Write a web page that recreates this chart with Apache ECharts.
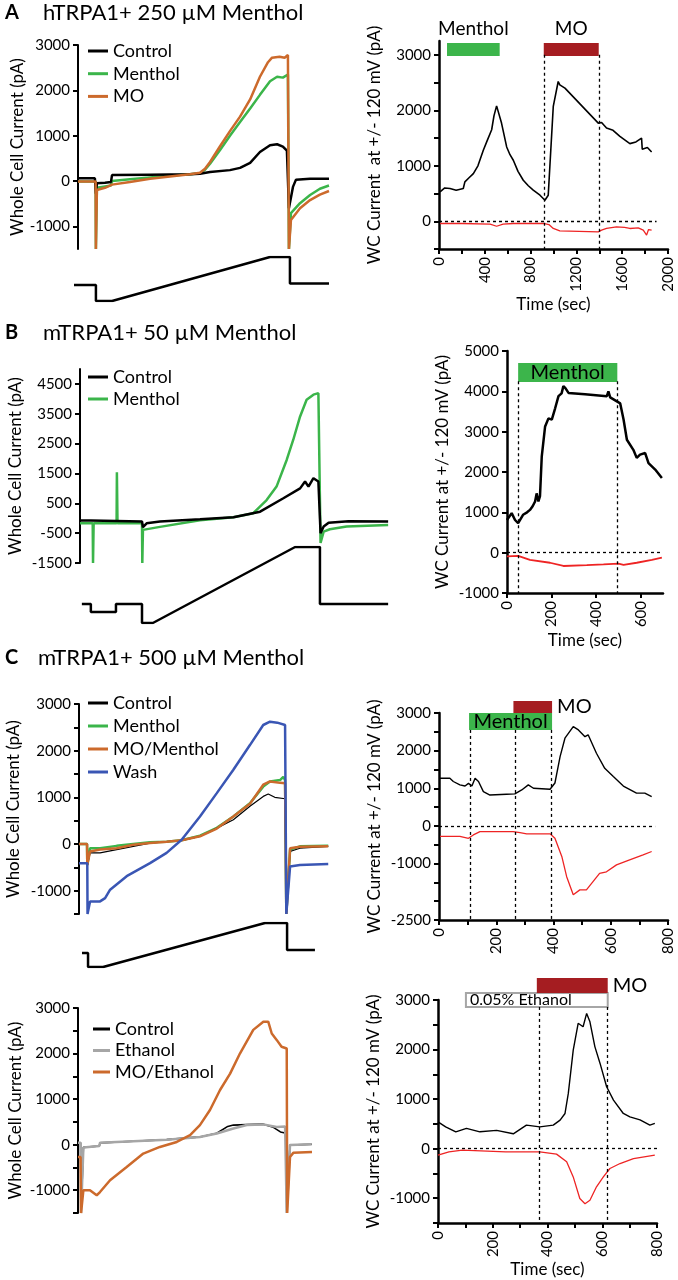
<!DOCTYPE html>
<html>
<head>
<meta charset="utf-8">
<script src="https://cdn.jsdelivr.net/npm/echarts@6.0.0/dist/echarts.min.js"></script>
<style>
  html, body { margin: 0; background: #fff; }
  #main { width: 678px; height: 1280px; }
</style>
</head>
<body>
<div id="main"></div>
<script>
// ---- data (ramp traces: x in % of sweep, y in pA; time courses: x in sec, y in pA) ----

// A left: hTRPA1 + 250 uM menthol, ramp currents
const aCtrl = [[0,60],[6.7,60],[7.1,-280],[7.5,-50],[10.7,-40],[13.1,-20],[13.5,130],[28.6,140],[44.4,150],[48.4,160],[52.4,200],[60.3,240],[64.3,290],[68.3,400],[72.2,640],[76.2,790],[79,810],[81.3,760],[82.9,670],[83.5,660],[83.7,-600],[85.3,-130],[86.5,30],[92.1,50],[99.6,50]];
const aMenthol = [[0,-10],[7,-10],[7.1,-1500],[7.5,-150],[10.7,-120],[13.1,-100],[13.5,0],[20.6,40],[28.6,80],[36.5,120],[44.4,150],[48.4,170],[50.4,250],[52.4,380],[56.3,680],[60.3,1000],[64.3,1300],[68.3,1600],[72.2,1900],[76.2,2200],[79,2300],[81.3,2280],[83.3,2350],[83.7,-1500],[84.5,-710],[88.1,-490],[92.1,-310],[96,-170],[99.6,-100]];
const aMO = [[0,-10],[7,-10],[7.1,-1500],[7.5,-200],[10.7,-150],[13.5,-80],[20.6,-20],[28.6,50],[36.5,100],[44.4,150],[48.4,180],[50.4,270],[52.4,420],[56.3,760],[60.3,1100],[64.3,1420],[68.3,1800],[72.2,2300],[75.4,2620],[77,2720],[80,2740],[82,2720],[83.3,2780],[83.7,-1500],[84.5,-860],[88.1,-600],[92.1,-420],[96,-300],[99.6,-220]];
const aProtocol = [[-1.6,-27],[7.1,-27],[7.1,-100],[13.5,-100],[76.2,100],[84.1,100],[84.1,-20],[99.6,-20]];

// A right: time course at +/-120 mV
const aRPos = [[9,530],[50,600],[96,590],[150,560],[212,590],[226,710],[260,780],[300,860],[340,1000],[387,1280],[420,1450],[460,1650],[480,1900],[503,2080],[515,2050],[546,1770],[591,1340],[620,1200],[649,1100],[690,900],[736,740],[780,640],[823,560],[882,470],[925,380],[940,350],[954,470],[998,2070],[1041,2520],[1055,2460],[1070,2460],[1100,2400],[1391,1770],[1420,1780],[1463,1680],[1520,1640],[1580,1530],[1667,1400],[1720,1430],[1769,1500],[1775,1300],[1784,1280],[1820,1330],[1857,1250]];
const aRNeg = [[9,-40],[200,-40],[446,-50],[503,-90],[560,-50],[650,-40],[913,-40],[960,-60],[998,-130],[1055,-175],[1391,-190],[1420,-160],[1463,-130],[1550,-100],[1620,-110],[1667,-130],[1740,-120],[1784,-160],[1813,-250],[1830,-150],[1857,-160]];
const aRMentholBar = [70, 530];
const aRMOBar = [915, 1395];
const aRDashes = [920, 1400];

// B left: mTRPA1 + 50 uM menthol, ramp currents
const bCtrl = [[0,-80],[3.5,-80],[3.6,-110],[20,-110],[20.3,-300],[21.5,-170],[25.8,-110],[38.7,-35],[49.5,35],[58.1,220],[65.6,670],[71,1000],[72.6,1230],[73.7,1060],[75.3,1340],[76.9,1230],[77.4,1200],[77.6,-500],[78.6,-280],[80.2,-150],[86.6,-100],[99.4,-110]];
const bMenthol = [[0,-170],[4.1,-170],[4.2,-1500],[4.4,-170],[11.8,-170],[11.9,1540],[12.1,-170],[20,-170],[20.1,-1500],[20.3,-390],[25.8,-290],[38.7,-70],[49.5,35],[55.9,170],[60.2,610],[63.4,1060],[66.7,1960],[68.8,2630],[71,3410],[73.1,3970],[75.3,4140],[76.9,4190],[77.4,4200],[77.6,-830],[78.6,-450],[80.6,-370],[86,-280],[99.4,-225]];
const bProtocol = [[0.6,-50],[3.5,-50],[3.5,-71],[11.6,-71],[11.6,-50],[20,-50],[20,-100],[23.5,-100],[69.4,100],[77.4,100],[77.4,-50],[99.4,-50]];

// B right
const bRPos = [[0,810],[21,980],[36,810],[50,730],[72,940],[90,1000],[103,1060],[115,1150],[126,1270],[133,1470],[141,1270],[148,1400],[156,2390],[171,3130],[186,3330],[201,3300],[216,3580],[231,3880],[245,3950],[253,4130],[262,4080],[276,3960],[350,3930],[448,3880],[455,4000],[463,3850],[493,3750],[508,3700],[523,3300],[538,2800],[567,2550],[582,2350],[597,2430],[620,2470],[635,2220],[665,2060],[695,1850]];
const bRNeg = [[0,-90],[50,-80],[103,-180],[193,-250],[253,-330],[358,-310],[433,-290],[500,-270],[523,-300],[582,-250],[650,-180],[695,-120]];
const bRMentholBar = [50, 495];
const bRDashes = [52, 496];

// C top left: mTRPA1 + 500 uM menthol, ramp currents
const cCtrl = [[0,0],[3.2,0],[3.3,-450],[4.4,-190],[8.4,-190],[15,-120],[21.6,-50],[28.3,20],[34.9,50],[41.5,80],[48.2,160],[54.9,340],[61.5,520],[68.1,810],[73.4,1020],[75.4,1070],[78,1000],[82.1,970],[82.5,970],[82.6,-1500],[84.1,-160],[88,-90],[99.3,-50]];
const cMenthol = [[0,0],[3.2,0],[3.3,-450],[4.4,-90],[8.4,-90],[15,-40],[21.6,0],[28.3,35],[34.9,50],[40.9,80],[48.2,180],[54.9,345],[61.5,590],[68.1,875],[73.4,1230],[76.1,1340],[80.1,1370],[81.4,1440],[82.1,1370],[82.5,1370],[82.6,-1500],[84.1,-120],[88,-50],[99.3,-40]];
const cMOMenthol = [[0,0],[3.2,0],[3.3,-450],[4.4,-160],[8.4,-120],[15,-90],[21.6,-15],[28.3,20],[34.9,50],[40.9,80],[48.2,165],[54.9,330],[61.5,590],[68.1,860],[73.4,1270],[76.1,1340],[80.1,1310],[82.1,1300],[82.5,1300],[82.6,-1500],[84.1,-90],[88,-60],[99.3,-50]];
const cWash = [[0,-410],[3.3,-410],[3.4,-1500],[4.4,-1230],[8.4,-1230],[10.4,-1160],[12.4,-980],[19,-690],[28.3,-410],[34.9,-190],[40.9,90],[48.2,590],[54.9,1090],[61.5,1590],[68.1,2120],[73.4,2550],[76.1,2620],[79,2600],[82.1,2550],[82.5,2560],[82.6,-1500],[84.1,-480],[88,-450],[99.3,-430]];
const cProtocol = [[1.2,-36],[3.6,-36],[3.6,-100],[9.6,-100],[74.1,100],[82.9,100],[82.9,-23],[94,-23]];

// C top right
const cRPos = [[3.5,1265],[38,1265],[50,1180],[73,1090],[91,1060],[103,1130],[115,1060],[126,1265],[138,1180],[155,910],[178,820],[236,840],[265,850],[289,955],[312,1090],[330,1000],[388,975],[405,1140],[423,1840],[440,2330],[469,2640],[487,2550],[510,2370],[521,2420],[550,1930],[579,1530],[609,1310],[644,1060],[690,870],[719,870],[743,780]];
const cRNeg = [[3.5,-280],[73,-280],[103,-330],[120,-240],[143,-150],[259,-150],[283,-180],[306,-210],[388,-210],[405,-330],[429,-810],[446,-1350],[469,-1830],[492,-1700],[515,-1700],[538,-1480],[561,-1260],[585,-1220],[620,-1035],[666,-900],[713,-770],[743,-680]];
const cRMentholBar = [105, 395];
const cRMOBar = [260, 395];
const cRDashes = [110, 265, 393];

// C bottom left: ethanol control
const dCtrl = [[0,40],[1.1,40],[1.3,-1500],[2.3,-60],[9.1,-30],[9.4,40],[23.6,75],[37.9,110],[52.1,170],[59.3,250],[64,400],[66.4,430],[72.1,440],[79.2,450],[83.5,380],[86.5,280],[89,250],[89.2,-1500],[90.6,-10],[99.9,10]];
const dEthanol = [[0,40],[1.1,40],[1.3,-1500],[2.3,-60],[9.1,-30],[9.4,40],[23.6,75],[37.9,110],[52.1,170],[59.3,245],[66.4,355],[72.1,430],[79.2,445],[84.9,390],[88.5,400],[89.2,-1500],[90.6,-10],[99.9,10]];
const dMOEthanol = [[0,-270],[1.1,-270],[1.3,-1500],[2.3,-1000],[5.1,-1000],[8,-1110],[9.4,-1040],[13.7,-780],[20.8,-490],[27.9,-195],[35,-50],[42.2,60],[47.9,210],[52.1,430],[56.4,760],[60.7,1200],[65,1560],[69.2,2000],[74.9,2520],[79.2,2700],[81.3,2700],[82.8,2440],[84.9,2300],[87,2150],[89.2,2110],[89.4,-1500],[90.6,-270],[92,-180],[100,-160]];

// C bottom right
const dRPos = [[0,540],[28,440],[65,340],[104,410],[153,340],[214,370],[275,300],[323,475],[372,440],[421,475],[446,575],[464,710],[476,1115],[494,1990],[512,2530],[530,2460],[543,2730],[555,2560],[573,2060],[592,1720],[616,1250],[641,980],[677,710],[701,640],[738,580],[774,475],[792,510]];
const dRNeg = [[0,-130],[40,-65],[89,-30],[247,-65],[372,-65],[433,-110],[470,-265],[494,-570],[518,-1005],[537,-1110],[555,-1040],[579,-770],[604,-570],[628,-400],[665,-300],[714,-200],[792,-130]];
const dRMOBar = [361, 620];
const dREthanolBar = [102, 620];
const dRDashes = [370, 620];

// ---- styles ----
const FONT = 'Lato, "Open Sans", sans-serif';
const C = {
  black: '#000000', green: '#3bb54a', orange: '#cc6a2c', blue: '#3a56b4',
  gray: '#a6a6a6', red: '#ee2424', barGreen: '#3cb54b', barRed: '#a51d21'
};
const LEFT_Y_NAME = 'Whole Cell Current (pA)';
const RIGHT_Y_NAME = 'WC Current at +/- 120 mV (pA)';

const option = {
  animation: false,
  backgroundColor: '#fff',
  textStyle: { fontFamily: FONT },
  grid: [], xAxis: [], yAxis: [], series: [], legend: [], graphic: []
};

function range(a, b, step) {
  const out = [];
  for (let v = a; v <= b + 1e-9; v += step) out.push(v);
  return out;
}

const plain = v => String(v);

function addGrid(box, xa, ya) {
  const i = option.grid.length;
  option.grid.push({ left: box[0], top: box[1], width: box[2], height: box[3] });
  option.xAxis.push(Object.assign({ gridIndex: i, type: 'value' }, xa));
  option.yAxis.push(Object.assign({ gridIndex: i, type: 'value' }, ya));
  return i;
}

function yAxisCfg(min, max, ticks, labels, name, nameGap, lw) {
  return {
    min, max,
    axisLine: { show: true, onZero: false, lineStyle: { color: '#000', width: lw } },
    axisTick: { show: true, length: 5, customValues: ticks, lineStyle: { color: '#000', width: 2 } },
    axisLabel: { show: true, customValues: labels, formatter: plain, color: '#000', fontSize: 15, margin: 8 },
    splitLine: { show: false },
    name, nameLocation: 'middle', nameGap, nameRotate: 90,
    nameTextStyle: { color: '#000', fontSize: 17 }
  };
}

function xAxisCfg(max, ticks, labels, name, nameGap) {
  return {
    min: 0, max,
    axisLine: { show: true, onZero: false, lineStyle: { color: '#000', width: 2.5 } },
    axisTick: { show: true, length: 5, customValues: ticks, lineStyle: { color: '#000', width: 2 } },
    axisLabel: { show: true, customValues: labels, formatter: plain, rotate: 90, color: '#000', fontSize: 15, margin: 8 },
    splitLine: { show: false },
    name, nameLocation: 'middle', nameGap,
    nameTextStyle: { color: '#000', fontSize: 17 }
  };
}

function line(gi, name, data, color, width, extra) {
  option.series.push(Object.assign({
    type: 'line', name, xAxisIndex: gi, yAxisIndex: gi, data,
    symbol: 'none', showSymbol: false, silent: true,
    lineStyle: { color, width }, itemStyle: { color }, z: 2
  }, extra || {}));
}

function protocol(box, xMin, data) {
  const gi = addGrid(box, { min: xMin, max: 100, show: false }, { min: -100, max: 100, show: false });
  line(gi, 'protocol', data, '#000', 2.5);
}

function guides(dashes, top, bottom, zeroEnd) {
  const d = dashes.map(x => [{ coord: [x, top] }, { coord: [x, bottom] }]);
  d.push([{ coord: [0, 0] }, { coord: [zeroEnd, 0] }]);
  return {
    silent: true, symbol: ['none', 'none'], label: { show: false }, animation: false,
    lineStyle: { color: '#000', width: 1.3, type: [3, 3] }, data: d
  };
}

function barStrip(box, xMax, bars) {
  const gi = addGrid(box, { min: 0, max: xMax, show: false }, { min: 0, max: 100, show: false });
  option.series.push({
    type: 'custom', xAxisIndex: gi, yAxisIndex: gi, silent: true, clip: false, z: 3,
    data: bars.map(b => [b.range[0], b.range[1]]),
    renderItem(params, api) {
      const b = bars[params.dataIndex];
      const p1 = api.coord([api.value(0), b.y[1]]);
      const p2 = api.coord([api.value(1), b.y[0]]);
      return {
        type: 'rect',
        shape: { x: p1[0], y: p1[1], width: p2[0] - p1[0], height: p2[1] - p1[1] },
        style: { fill: b.fill, stroke: b.stroke || null, lineWidth: b.stroke ? 2 : 0 },
        textContent: { style: { text: b.label, fill: '#000', fontSize: b.fontSize || 19, fontFamily: FONT } },
        textConfig: { position: b.pos, distance: b.dist == null ? 4 : b.dist }
      };
    }
  });
}

function legend(left, top, names, gap, itemWidth) {
  option.legend.push({
    left, top, orient: 'vertical', data: names, selectedMode: false,
    icon: 'rect', itemWidth: itemWidth || 20, itemHeight: 3, itemGap: gap, padding: 0,
    textStyle: { color: '#000', fontSize: 18, fontFamily: FONT }
  });
}

function title(y, letter, text, textX) {
  option.graphic.push(
    { type: 'text', x: 5, y, style: { text: letter, font: 'bold 20px ' + FONT, fill: '#000', verticalAlign: 'middle' } },
    { type: 'text', x: textX, y, style: { text, font: '22px ' + FONT, fill: '#000', verticalAlign: 'middle' } }
  );
}

// ---- panel A ----
title(13, 'A', 'hTRPA1+ 250 µM Menthol', 43);
let g = addGrid([78, 45, 252, 204], { min: 0, max: 100, show: false },
  yAxisCfg(-1500, 3000, range(-1000, 3000, 1000), range(-1000, 3000, 1000), LEFT_Y_NAME, 52, 2));
line(g, 'Control', aCtrl, C.black, 2.5, { z: 3 });
line(g, 'Menthol', aMenthol, C.green, 2.5);
line(g, 'MO', aMO, C.orange, 2.5, { z: 4 });
legend(88, 42, ['Control', 'Menthol', 'MO'], 4.7);
protocol([74, 257, 256, 44], -1.6, aProtocol);

g = addGrid([439, 41, 229, 208],
  xAxisCfg(2000, range(0, 2000, 200), range(0, 2000, 400), 'Time (sec)', 47),
  yAxisCfg(-500, 3250, range(-500, 3000, 500), range(0, 3000, 1000), 'WC Current  at +/- 120 mV (pA)', 56, 2.5));
line(g, 'pos', aRPos, C.black, 1.6, { markLine: guides(aRDashes, 3000, -500, 1900) });
line(g, 'neg', aRNeg, C.red, 1.3);
barStrip([439, 43, 229, 13], 2000, [
  { range: aRMentholBar, y: [0, 100], fill: C.barGreen, label: 'Menthol', pos: 'top', dist: 5 },
  { range: aRMOBar, y: [0, 100], fill: C.barRed, label: 'MO', pos: 'top', dist: 5 }
]);

// ---- panel B ----
title(333, 'B', 'mTRPA1+ 50 µM Menthol', 43);
g = addGrid([80, 369, 310, 194], { min: 0, max: 100, show: false },
  yAxisCfg(-1500, 5000, range(-1500, 4500, 1000), range(-1500, 4500, 1000), LEFT_Y_NAME, 56, 2));
line(g, 'Control', bCtrl, C.black, 2.5, { z: 3 });
line(g, 'Menthol', bMenthol, C.green, 2.5);
legend(88, 368, ['Control', 'Menthol'], 4);
protocol([80, 547, 310, 76], 0, bProtocol);

g = addGrid([507, 351, 156, 242],
  xAxisCfg(700, range(0, 600, 200), range(0, 600, 200), 'Time (sec)', 39),
  yAxisCfg(-1000, 5000, range(-1000, 5000, 1000), range(-1000, 5000, 1000), RIGHT_Y_NAME, 56, 2.5));
line(g, 'pos', bRPos, C.black, 2.5, { markLine: guides(bRDashes, 4250, -1000, 700) });
line(g, 'neg', bRNeg, C.red, 1.8);
barStrip([507, 363, 156, 19], 700, [
  { range: bRMentholBar, y: [0, 100], fill: C.barGreen, label: 'Menthol', pos: 'inside', fontSize: 20 }
]);

// ---- panel C (top) ----
title(658, 'C', 'mTRPA1+ 500 µM Menthol', 38);
g = addGrid([79, 704, 251, 210], { min: 0, max: 100, show: false },
  yAxisCfg(-1500, 3000, range(-1500, 3000, 500), range(-1000, 3000, 1000), LEFT_Y_NAME, 57, 2));
line(g, 'Control', cCtrl, C.black, 1.2, { z: 3 });
line(g, 'Menthol', cMenthol, C.green, 2.5);
line(g, 'MO/Menthol', cMOMenthol, C.orange, 2.5, { z: 4 });
line(g, 'Wash', cWash, C.blue, 2.5, { z: 5 });
legend(88, 694, ['Control', 'Menthol', 'MO/Menthol', 'Wash'], 5);
protocol([79, 923, 251, 44], 0, cProtocol);

g = addGrid([439, 713, 229, 207],
  xAxisCfg(800, range(0, 800, 100), range(0, 800, 200), '', 40),
  yAxisCfg(-2500, 3000, range(-2500, 3000, 500), [-2500, -1000, 0, 1000, 2000, 3000], RIGHT_Y_NAME, 56, 2.5));
line(g, 'pos', cRPos, C.black, 1.4, { markLine: guides(cRDashes, 2550, -2500, 755) });
line(g, 'neg', cRNeg, C.red, 1.3);
barStrip([439, 701, 229, 29], 800, [
  { range: cRMentholBar, y: [0, 59], fill: C.barGreen, label: 'Menthol', pos: 'inside', fontSize: 20 },
  { range: cRMOBar, y: [59, 100], fill: C.barRed, label: 'MO', pos: 'right', dist: 5, fontSize: 20 }
]);

// ---- panel C (bottom) ----
g = addGrid([78, 1008, 234, 205], { min: 0, max: 100, show: false },
  yAxisCfg(-1500, 3000, range(-1500, 3000, 500), range(-1000, 3000, 1000), LEFT_Y_NAME, 54, 2));
line(g, 'Control', dCtrl, C.black, 1.6, { z: 2 });
line(g, 'Ethanol', dEthanol, C.gray, 2.5, { z: 3 });
line(g, 'MO/Ethanol', dMOEthanol, C.orange, 2.5, { z: 4 });
legend(93, 1020, ['Control', 'Ethanol', 'MO/Ethanol'], 3.5, 17);

g = addGrid([438, 1000, 219, 223],
  xAxisCfg(800, range(0, 800, 100), range(0, 800, 200), 'Time (sec)', 38),
  yAxisCfg(-1500, 3000, range(-1500, 3000, 500), range(-1000, 3000, 1000), RIGHT_Y_NAME, 56, 2.5));
line(g, 'pos', dRPos, C.black, 1.4, { markLine: guides(dRDashes, 2860, -1500, 800) });
line(g, 'neg', dRNeg, C.red, 1.3);
barStrip([438, 978, 219, 29], 800, [
  { range: dREthanolBar, y: [0, 48], fill: '#fff', stroke: C.gray, label: '0.05% Ethanol', pos: 'insideLeft', dist: 5, fontSize: 16 },
  { range: dRMOBar, y: [48, 100], fill: C.barRed, label: 'MO', pos: 'right', dist: 5, fontSize: 20 }
]);

const chart = echarts.init(document.getElementById('main'), null, { renderer: 'canvas', width: 678, height: 1280 });
chart.setOption(option);
</script>
</body>
</html>
